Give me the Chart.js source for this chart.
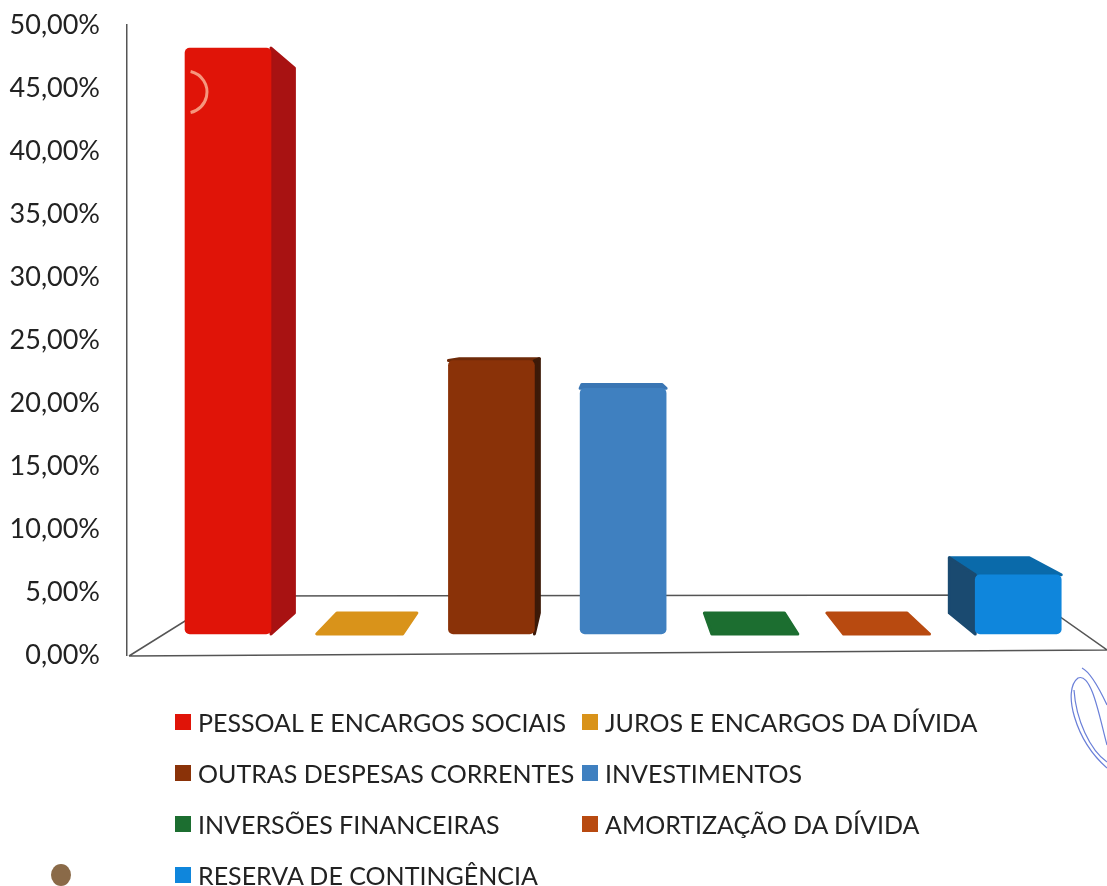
<!DOCTYPE html>
<html lang="pt-BR">

<head>
    <meta charset="UTF-8">
    <title>Despesas</title>
    <style>
        body {
            margin: 0;
            background: #fff;
            font-family: Lato, sans-serif;
        }

        #wrap {
            position: relative;
            width: 1107px;
            height: 886px;
            overflow: hidden;
        }

        #legend {
            position: absolute;
            left: 175px;
            top: 696px;
            display: grid;
            grid-template-columns: 407px auto;
            grid-auto-rows: 51px;
            font-size: 25px;
            color: #222;
            white-space: nowrap;
        }

        #legend div {
            display: flex;
            align-items: center;
        }

        #legend i {
            width: 16px;
            height: 16px;
            margin-right: 7px;
            flex: none;
        }
    </style>
</head>

<body>
    <div id="wrap">
        <canvas id="myChart" width="1107" height="886"></canvas>
        <div id="legend"></div>
    </div>

    <script src="https://cdn.jsdelivr.net/npm/chart.js"></script>

    <script>
        const categories = ['PESSOAL E ENCARGOS SOCIAIS', 'JUROS E ENCARGOS DA DÍVIDA', 'OUTRAS DESPESAS CORRENTES',
            'INVESTIMENTOS', 'INVERSÕES FINANCEIRAS', 'AMORTIZAÇÃO DA DÍVIDA', 'RESERVA DE CONTINGÊNCIA']
        const values = [46.5, 0, 21.7, 19.5, 0, 0, 4.7]
        const tickValues = [0, 5, 10, 15, 20, 25, 30, 35, 40, 45, 50]

        const frontColors = ['#e01408', '#d9931a', '#8a3208', '#3f80c0', '#1c6e30', '#b84a10', '#0f86dc']
        const sideColors = ['#a81212', '#b87a14', '#3d1a08', '#2a5f98', '#14552a', '#a8420e', '#1a4a70']
        const topColors = ['#c81010', '#d9931a', '#6e2a08', '#3a76b4', '#1c6e30', '#b84a10', '#0a6aaa']

        // depth of the fake 3D: every back corner moves this far towards the vanishing point
        const depth = 0.07
        const vanishX = 605, vanishY = 333

        function back(px, py) {
            return [px + (vanishX - px) * depth, py + (vanishY - py) * depth]
        }

        function poly(c, pts, color) {
            c.beginPath()
            pts.forEach((p, i) => i ? c.lineTo(p[0], p[1]) : c.moveTo(p[0], p[1]))
            c.closePath()
            c.fillStyle = color
            c.strokeStyle = color
            c.lineWidth = 3
            c.lineJoin = 'round'
            c.fill()
            c.stroke()
        }

        const floorAndDepth = {
            id: 'floorAndDepth',
            beforeDatasetsDraw(chart) {
                const c = chart.ctx
                const area = chart.chartArea
                c.save()
                // floor of the chart, hangs off the bottom of the axis
                c.strokeStyle = '#555'
                c.lineWidth = 1.5
                c.beginPath()
                c.moveTo(area.left + 2, area.bottom + 1)
                c.lineTo(area.left + 98, area.bottom - 59)
                c.lineTo(area.right - 78, area.bottom - 60)
                c.lineTo(area.right, area.bottom - 5)
                c.lineTo(area.left + 2, area.bottom + 1)
                c.stroke()

                chart.getDatasetMeta(0).data.forEach((bar, i) => {
                    const p = bar.getProps(['x', 'y', 'base', 'width'], true)
                    const l = p.x - p.width / 2, r = p.x + p.width / 2
                    if (p.y > vanishY) {
                        poly(c, [[l, p.y], [r, p.y], back(r, p.y), back(l, p.y)], topColors[i])
                    }
                    // a bar straddling the vanishing point shows no side face
                    const straddles = l < vanishX && r > vanishX
                    if (p.base > p.y && !straddles) {
                        const sx = p.x < vanishX ? r : l
                        poly(c, [[sx, p.y], [sx, p.base], back(sx, p.base), back(sx, p.y)], sideColors[i])
                    }
                })
                c.restore()
            },
            afterDatasetsDraw(chart) {
                const c = chart.ctx
                c.save()
                // marks left on the scanned page
                c.strokeStyle = 'rgba(255,205,175,0.7)'
                c.lineWidth = 3
                c.beginPath()
                c.arc(186, 92, 21, -1.35, 1.35)
                c.stroke()

                c.strokeStyle = '#6a7fd8'
                c.lineWidth = 1.2
                c.beginPath()
                c.moveTo(1107, 768)
                c.bezierCurveTo(1075, 740, 1062, 690, 1078, 678)
                c.bezierCurveTo(1092, 672, 1100, 720, 1107, 745)
                c.moveTo(1082, 668)
                c.bezierCurveTo(1090, 672, 1100, 690, 1107, 705)
                c.moveTo(1074, 690)
                c.bezierCurveTo(1076, 720, 1090, 750, 1107, 762)
                c.stroke()

                c.fillStyle = '#8a6a48'
                c.beginPath()
                c.ellipse(61, 875, 10, 11, 0, 0, Math.PI * 2)
                c.fill()
                c.restore()
            }
        }

        const ctx = document.getElementById('myChart')
        const myChart = new Chart(ctx, {
            type: 'bar',
            data: {
                datasets: [{
                    data: values.map((v, i) => ({ x: i, y: v })),
                    yAxisID: 'y2',
                    backgroundColor: frontColors,
                    barThickness: 86,
                    borderRadius: 5,
                    borderSkipped: false
                }]
            },
            options: {
                responsive: false,
                animation: false,
                layout: { padding: { top: 25, bottom: 231 } },
                plugins: { legend: { display: false }, tooltip: { enabled: false } },
                scales: {
                    x: { type: 'linear', display: false, offset: false, min: -0.767, max: 6.674 },
                    y: {
                        min: 0,
                        max: 50,
                        afterFit(scale) {
                            scale.width = 127
                            scale.paddingTop = 0
                            scale.paddingBottom = 0
                        },
                        afterBuildTicks(scale) { scale.ticks = tickValues.map(v => ({ value: v })) },
                        grid: { display: false, drawTicks: false },
                        border: { color: '#555', width: 1.5 },
                        ticks: {
                            padding: 27,
                            color: '#222',
                            font: { family: 'Lato', size: 27 },
                            callback: v => v.toFixed(2).replace('.', ',') + '%'
                        }
                    },
                    // bars stand on the floor, a little above the axis zero
                    y2: { display: false, min: -1.667, max: 48.333 }
                }
            },
            plugins: [floorAndDepth]
        })

        const legend = document.getElementById('legend')
        categories.forEach((name, i) => {
            const item = document.createElement('div')
            const box = document.createElement('i')
            box.style.background = frontColors[i]
            item.appendChild(box)
            item.appendChild(document.createTextNode(name))
            legend.appendChild(item)
        })
    </script>
</body>

</html>
